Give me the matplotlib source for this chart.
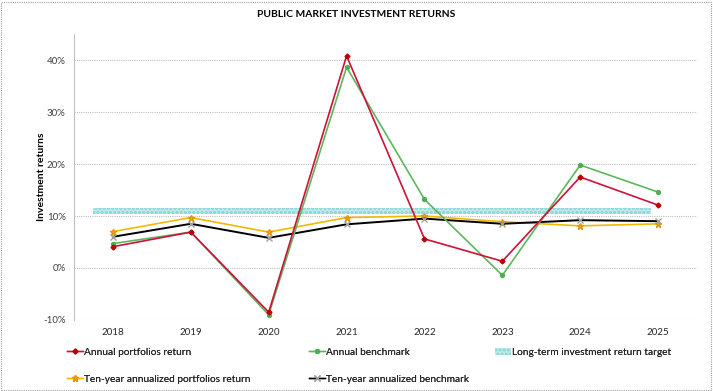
import matplotlib.pyplot as plt
from matplotlib.patches import Rectangle, Patch
from matplotlib.ticker import FuncFormatter

plt.rcParams.update({
    'font.family': 'Lato',
    'font.size': 8,
    'hatch.color': '#7fd3d3',
    'hatch.linewidth': 1.5,
})

# data
years = ['2018', '2019', '2020', '2021', '2022', '2023', '2024', '2025']
annual_return = [4.1, 6.9, -8.5, 40.8, 5.6, 1.3, 17.5, 12.1]
annual_bench = [4.7, 6.9, -9.0, 38.6, 13.2, -1.4, 19.8, 14.6]
tenyr_return = [7.0, 9.7, 6.9, 9.7, 10.0, 8.9, 8.1, 8.5]
tenyr_bench = [6.0, 8.5, 5.8, 8.4, 9.5, 8.5, 9.2, 9.0]
target_low, target_high = 10.3, 11.6

fig = plt.figure(figsize=(7.13, 3.91), dpi=100)
ax = fig.add_axes([0.1038, 0.1816, 0.8738, 0.7314])

x = list(range(len(years)))

# long-term target band
ax.fill_between([x[0] - 0.26, x[-1] - 0.09], target_low, target_high,
                facecolor='#bfeaea', hatch='....', edgecolor='#7fd3d3',
                linewidth=0, zorder=2)

red_kw = dict(color='#d0103a', marker='D', ms=2.5, mfc='#c00000', mec='#c00000')
grn_kw = dict(color='#5cb85c', marker='o', ms=2.8, mfc='#4caf50', mec='#4caf50')
yel_kw = dict(color='#f5b800', marker='*', ms=4.5, mfc='#f5b800', mec='#e69500')
blk_kw = dict(color='#000000', marker='x', ms=4.5, mec='#a0a0a0', mew=1)

ax.plot(x, annual_return, lw=1.2, zorder=5, **red_kw)
ax.plot(x, annual_bench, lw=1.2, zorder=4, **grn_kw)
ax.plot(x, tenyr_return, lw=1.2, zorder=3, **yel_kw)
ax.plot(x, tenyr_bench, lw=1.4, zorder=3, **blk_kw)

ax.set_xlim(-0.5, len(years) - 0.5)
ax.set_ylim(-10, 45)
ax.set_yticks([-10, 0, 10, 20, 30, 40])
ax.yaxis.set_major_formatter(FuncFormatter(lambda v, p: f'{v:.0f}%'))
ax.set_xticks(x)
ax.set_xticklabels(years)
ax.tick_params(axis='both', length=0, labelsize=7, pad=6)
ax.tick_params(axis='y', colors='#404040')
ax.tick_params(axis='x', colors='#262626')

ax.grid(axis='y', color='#c0c0c0', linestyle=(0, (1, 1)), lw=0.8)
for s in ['top', 'right', 'bottom']:
    ax.spines[s].set_visible(False)
ax.spines['left'].set_color('#c0c0c0')
ax.spines['left'].set_linestyle((0, (1, 1)))
ax.set_axisbelow(True)

ax.set_ylabel('Investment returns', fontsize=7.5, fontweight='bold', labelpad=-2)
fig.text(0.5, 0.962, 'PUBLIC MARKET INVESTMENT RETURNS', ha='center',
         va='center', fontsize=7.4, fontweight='bold')

# legend, built as three columns
h_red = plt.Line2D([], [], lw=1, **red_kw)
h_yel = plt.Line2D([], [], lw=1, **yel_kw)
h_grn = plt.Line2D([], [], lw=1, **grn_kw)
h_blk = plt.Line2D([], [], lw=1, **blk_kw)
h_band = Patch(facecolor='#bfeaea', hatch='....', edgecolor='#7fd3d3', lw=0)

leg_kw = dict(loc='upper left', frameon=False, fontsize=7.3, handlelength=1.6,
              handletextpad=0.1, labelspacing=1.75, borderpad=0,
              borderaxespad=0, labelcolor='#262626')
cols = [
    (0.094, [h_red, h_yel], ['Annual portfolios return',
                            'Ten-year annualized portfolios return']),
    (0.433, [h_grn, h_blk], ['Annual benchmark',
                            'Ten-year annualized benchmark']),
    (0.694, [h_band], ['Long-term investment return target']),
]
for x0, hs, labs in cols:
    leg = fig.legend(hs, labs, bbox_to_anchor=(x0, 0.111), **leg_kw)
    fig.add_artist(leg)

# dotted border around the chart
fig.patches.append(Rectangle((0.002, 0.003), 0.995, 0.993,
                             transform=fig.transFigure, fill=False,
                             edgecolor='#a0a0a0', linestyle=(0, (1, 1)),
                             lw=0.8))

fig.savefig('out.png', dpi=100)
